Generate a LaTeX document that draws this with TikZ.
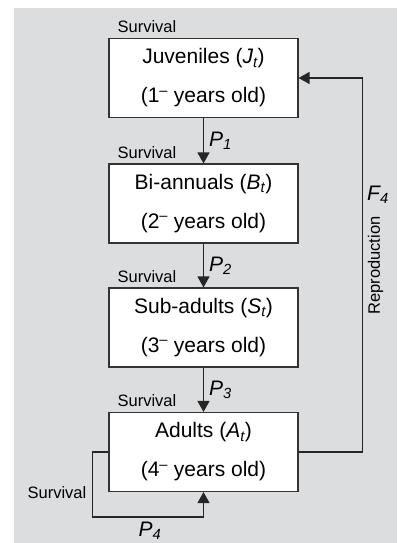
\documentclass[tikz,border=0pt]{standalone}
\usepackage{fontspec}
\setmainfont{Liberation Sans}
\usetikzlibrary{arrows.meta,positioning}
\definecolor{panelgray}{HTML}{DCDDDF}

\begin{document}
\begin{tikzpicture}[x=1pt,y=-1pt,
  stage/.style={draw=black!80, fill=white, line width=1.1pt, minimum width=189pt, minimum height=79pt, align=center, inner sep=0pt, font=\fontsize{21}{25}\selectfont},
  flow/.style={draw=black!85, line width=1.2pt, -{Triangle[length=11pt,width=12pt]}},
  surv/.style={font=\fontsize{16.5}{19}\selectfont, inner sep=0pt},
  rate/.style={font=\fontsize{21}{25}\selectfont\itshape, inner sep=0pt}]
\useasboundingbox (0,0) rectangle (397,543);
\fill[panelgray] (14,8) rectangle (397,543);
%
\node[stage] (juv) at (203.5,78) {Juveniles (\textit{J\textsubscript{t}})\\[14pt](1\textsuperscript{--} years old)};
\node[stage] (bia) at (203.5,203.5) {Bi-annuals (\textit{B\textsubscript{t}})\\[14pt](2\textsuperscript{--} years old)};
\node[stage] (sub) at (203.5,327.5) {Sub-adults (\textit{S\textsubscript{t}})\\[14pt](3\textsuperscript{--} years old)};
\node[stage] (ad) at (203.5,452) {Adults (\textit{A\textsubscript{t}})\\[14pt](4\textsuperscript{--} years old)};
%
\node[surv, anchor=base west] (sv1) at ([shift={(9pt,5pt)}]juv.north west) {Survival};
\node[surv, anchor=base west] (sv2) at ([shift={(9pt,5pt)}]bia.north west) {Survival};
\node[surv, anchor=base west] (sv3) at ([shift={(9pt,5pt)}]sub.north west) {Survival};
\node[surv, anchor=base west] (sv4) at ([shift={(9pt,5pt)}]ad.north west) {Survival};
%
\draw[flow] (juv) -- (bia) node[rate, midway, right=5pt] {P\textsubscript{1}};
\draw[flow] (bia) -- (sub) node[rate, midway, right=5pt] {P\textsubscript{2}};
\draw[flow] (sub) -- (ad) node[rate, midway, right=5pt] {P\textsubscript{3}};
%
\draw[flow] (ad.east) -| ([xshift=64pt]juv.east) -- (juv.east);
\node[surv, rotate=90] (rep) at (375.5,265.5) {Reproduction};
\node[rate, anchor=base west] (f4) at (367,200) {F\textsubscript{4}};
%
\draw[flow] (ad.west) -- ++(-16,0) |- ([yshift=-25pt]ad.south) -- (ad.south);
\node[surv] (sv5) at (57,493) {Survival};
\node[rate] (p4) at (150,531) {P\textsubscript{4}};
\end{tikzpicture}
\end{document}
